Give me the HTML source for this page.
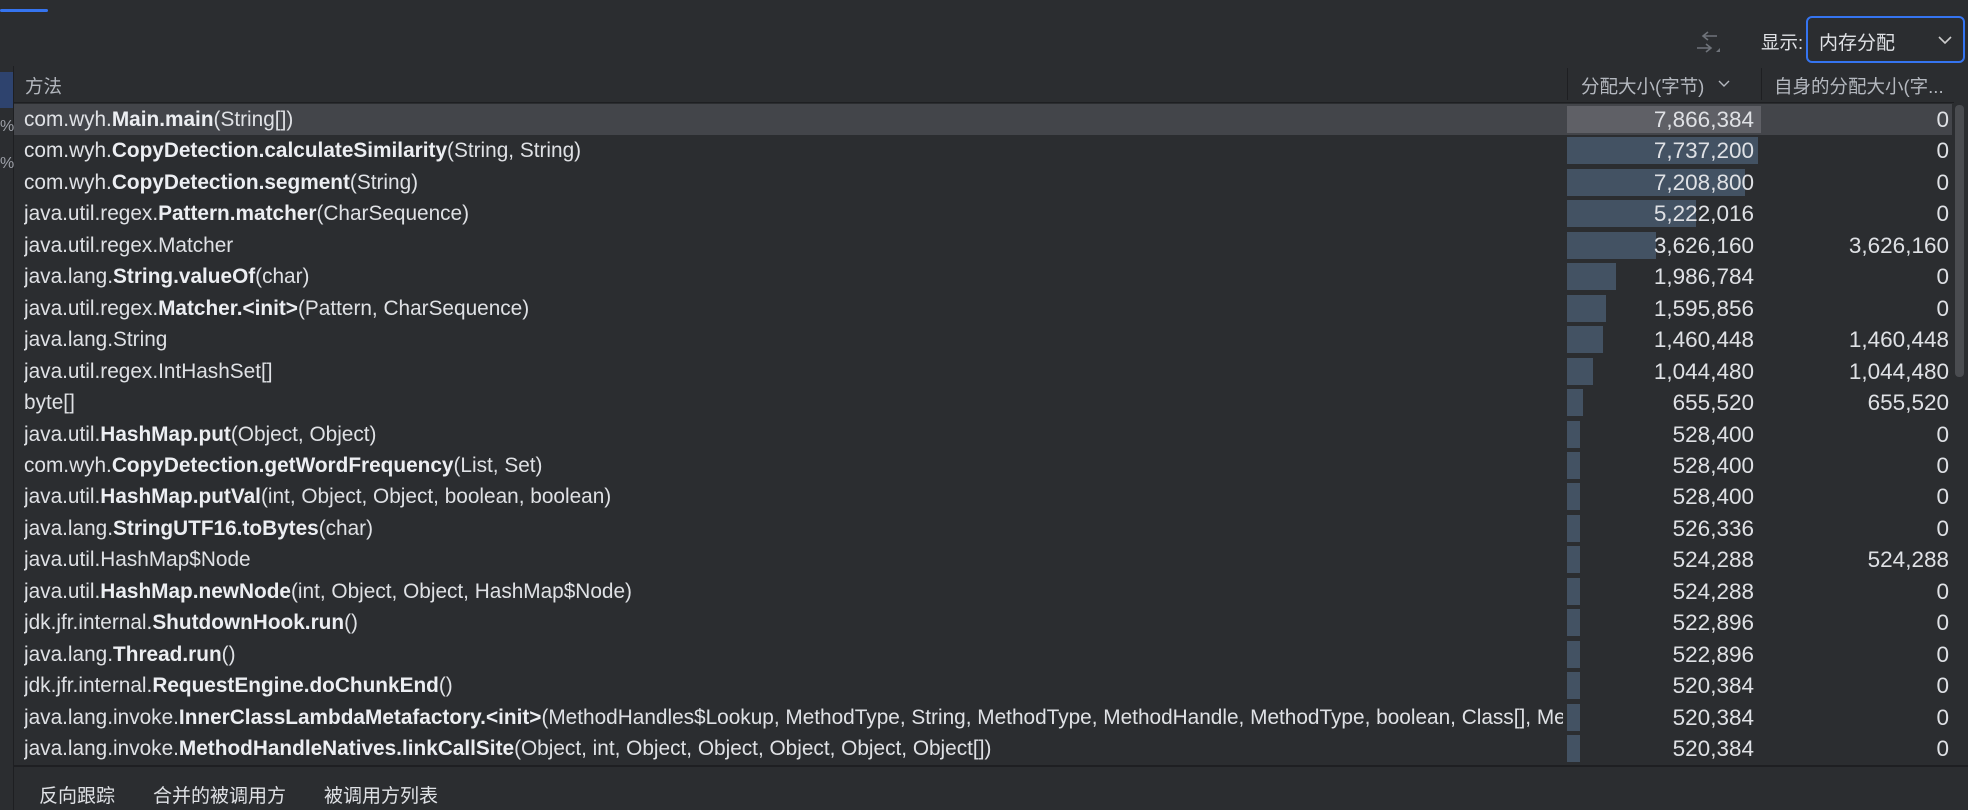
<!DOCTYPE html>
<html><head><meta charset="utf-8"><style>
*{margin:0;padding:0;box-sizing:border-box}
body{width:1968px;height:810px;background:#2b2d30;overflow:hidden;position:relative;font-family:"Liberation Sans","Noto Sans CJK SC",sans-serif;color:#dfe1e5}
.a{position:absolute}
.r{position:absolute;left:14px;width:1938px;height:31.45px;font-size:20.8px;letter-spacing:0;line-height:31.45px;white-space:nowrap}
.m{position:absolute;left:10px;width:1539px;overflow:hidden}
.m b{font-weight:bold;color:#eceef2}
.bar{position:absolute;left:1553px;top:2px;height:27px;background:#435263}
.n1{position:absolute;right:198px;text-align:right;font-size:22.5px}
.n2{position:absolute;right:3px;text-align:right;font-size:22.5px}
.cn{font-family:"Liberation Sans","Noto Sans CJK SC",sans-serif}
</style></head><body>
<div class="a" style="left:0;top:9px;width:48px;height:3px;background:#3574f0;border-radius:2px"></div>
<div class="a" style="left:0;top:66px;width:14px;height:744px;background:#2b2d30;border-right:1px solid #1e1f22"></div>
<div class="a" style="left:0;top:72px;width:13px;height:36px;background:#2e436e"></div>
<div class="a" style="left:0;top:118px;font-size:16px;color:#9da0a8">%</div>
<div class="a" style="left:0;top:155px;font-size:16px;color:#9da0a8">%</div>
<svg class="a" style="left:1692px;top:28px" width="30" height="28" viewBox="0 0 30 28"><path d="M16 4l-5 4 5 4M11 8h14M14 16l5 4-5 4M5 20h14" stroke="#6f737a" stroke-width="1.6" fill="none"/><path d="M24 24l4-4v4z" fill="#6f737a"/></svg>
<div class="a cn" style="left:1761px;top:29px;font-size:18.5px;color:#dfe1e5">显示:</div>
<div class="a" style="left:1806px;top:16px;width:159px;height:47px;border:2px solid #3574f0;border-radius:6px;background:#2b2d30"></div>
<div class="a cn" style="left:1819px;top:28px;font-size:19px">内存分配</div>
<svg class="a" style="left:1938px;top:36px" width="14" height="9"><path d="M1 1l6 6 6-6" stroke="#ccc" stroke-width="1.6" fill="none"/></svg>
<div class="a" style="left:14px;top:102px;width:1940px;height:1px;background:#1e1f22"></div>
<div class="a cn" style="left:25px;top:73px;font-size:18.5px;color:#b4b8bf">方法</div>
<div class="a" style="left:1567px;top:68px;width:1px;height:32px;background:#1e1f22"></div>
<div class="a" style="left:1761px;top:68px;width:1px;height:32px;background:#1e1f22"></div>
<div class="a cn" style="left:1581px;top:73px;font-size:18.5px;color:#b4b8bf">分配大小(字节)</div>
<svg class="a" style="left:1718px;top:80px" width="12" height="8"><path d="M1 1l5 5 5-5" stroke="#b4b8bf" stroke-width="1.4" fill="none"/></svg>
<div class="a cn" style="left:1774px;top:73px;font-size:18.5px;color:#b4b8bf">自身的分配大小(字...</div>
<div class="a" style="left:1955px;top:105px;width:9px;height:272px;background:#4a4c50;border-radius:4px"></div>
<div class="a" style="left:14px;top:765px;width:1954px;height:2px;background:#1e1f22"></div>
<div class="a cn" style="left:39px;top:781px;font-size:19px">反向跟踪</div>
<div class="a cn" style="left:153px;top:781px;font-size:19px">合并的被调用方</div>
<div class="a cn" style="left:324px;top:781px;font-size:19px">被调用方列表</div>

<div class="r" style="top:104px;background:#43454a"><span class="m">com.wyh.<b>Main.main</b>(String[])</span><span class="bar" style="width:194px;background:#5f6066"></span><span class="n1">7,866,384</span><span class="n2">0</span></div>
<div class="r" style="top:135.45px"><span class="m">com.wyh.<b>CopyDetection.calculateSimilarity</b>(String, String)</span><span class="bar" style="width:191px"></span><span class="n1">7,737,200</span><span class="n2">0</span></div>
<div class="r" style="top:166.9px"><span class="m">com.wyh.<b>CopyDetection.segment</b>(String)</span><span class="bar" style="width:178px"></span><span class="n1">7,208,800</span><span class="n2">0</span></div>
<div class="r" style="top:198.35px"><span class="m">java.util.regex.<b>Pattern.matcher</b>(CharSequence)</span><span class="bar" style="width:129px"></span><span class="n1">5,222,016</span><span class="n2">0</span></div>
<div class="r" style="top:229.8px"><span class="m">java.util.regex.Matcher</span><span class="bar" style="width:89px"></span><span class="n1">3,626,160</span><span class="n2">3,626,160</span></div>
<div class="r" style="top:261.25px"><span class="m">java.lang.<b>String.valueOf</b>(char)</span><span class="bar" style="width:49px"></span><span class="n1">1,986,784</span><span class="n2">0</span></div>
<div class="r" style="top:292.7px"><span class="m">java.util.regex.<b>Matcher.&lt;init&gt;</b>(Pattern, CharSequence)</span><span class="bar" style="width:39px"></span><span class="n1">1,595,856</span><span class="n2">0</span></div>
<div class="r" style="top:324.15px"><span class="m">java.lang.String</span><span class="bar" style="width:36px"></span><span class="n1">1,460,448</span><span class="n2">1,460,448</span></div>
<div class="r" style="top:355.6px"><span class="m">java.util.regex.IntHashSet[]</span><span class="bar" style="width:26px"></span><span class="n1">1,044,480</span><span class="n2">1,044,480</span></div>
<div class="r" style="top:387.05px"><span class="m">byte[]</span><span class="bar" style="width:16px"></span><span class="n1">655,520</span><span class="n2">655,520</span></div>
<div class="r" style="top:418.5px"><span class="m">java.util.<b>HashMap.put</b>(Object, Object)</span><span class="bar" style="width:13px"></span><span class="n1">528,400</span><span class="n2">0</span></div>
<div class="r" style="top:449.95px"><span class="m">com.wyh.<b>CopyDetection.getWordFrequency</b>(List, Set)</span><span class="bar" style="width:13px"></span><span class="n1">528,400</span><span class="n2">0</span></div>
<div class="r" style="top:481.4px"><span class="m">java.util.<b>HashMap.putVal</b>(int, Object, Object, boolean, boolean)</span><span class="bar" style="width:13px"></span><span class="n1">528,400</span><span class="n2">0</span></div>
<div class="r" style="top:512.85px"><span class="m">java.lang.<b>StringUTF16.toBytes</b>(char)</span><span class="bar" style="width:13px"></span><span class="n1">526,336</span><span class="n2">0</span></div>
<div class="r" style="top:544.3px"><span class="m">java.util.HashMap$Node</span><span class="bar" style="width:13px"></span><span class="n1">524,288</span><span class="n2">524,288</span></div>
<div class="r" style="top:575.75px"><span class="m">java.util.<b>HashMap.newNode</b>(int, Object, Object, HashMap$Node)</span><span class="bar" style="width:13px"></span><span class="n1">524,288</span><span class="n2">0</span></div>
<div class="r" style="top:607.2px"><span class="m">jdk.jfr.internal.<b>ShutdownHook.run</b>()</span><span class="bar" style="width:13px"></span><span class="n1">522,896</span><span class="n2">0</span></div>
<div class="r" style="top:638.65px"><span class="m">java.lang.<b>Thread.run</b>()</span><span class="bar" style="width:13px"></span><span class="n1">522,896</span><span class="n2">0</span></div>
<div class="r" style="top:670.1px"><span class="m">jdk.jfr.internal.<b>RequestEngine.doChunkEnd</b>()</span><span class="bar" style="width:13px"></span><span class="n1">520,384</span><span class="n2">0</span></div>
<div class="r" style="top:701.55px"><span class="m">java.lang.invoke.<b>InnerClassLambdaMetafactory.&lt;init&gt;</b>(MethodHandles$Lookup, MethodType, String, MethodType, MethodHandle, MethodType, boolean, Class[], MethodType)</span><span class="bar" style="width:13px"></span><span class="n1">520,384</span><span class="n2">0</span></div>
<div class="r" style="top:733px"><span class="m">java.lang.invoke.<b>MethodHandleNatives.linkCallSite</b>(Object, int, Object, Object, Object, Object, Object[])</span><span class="bar" style="width:13px"></span><span class="n1">520,384</span><span class="n2">0</span></div>
</body></html>
